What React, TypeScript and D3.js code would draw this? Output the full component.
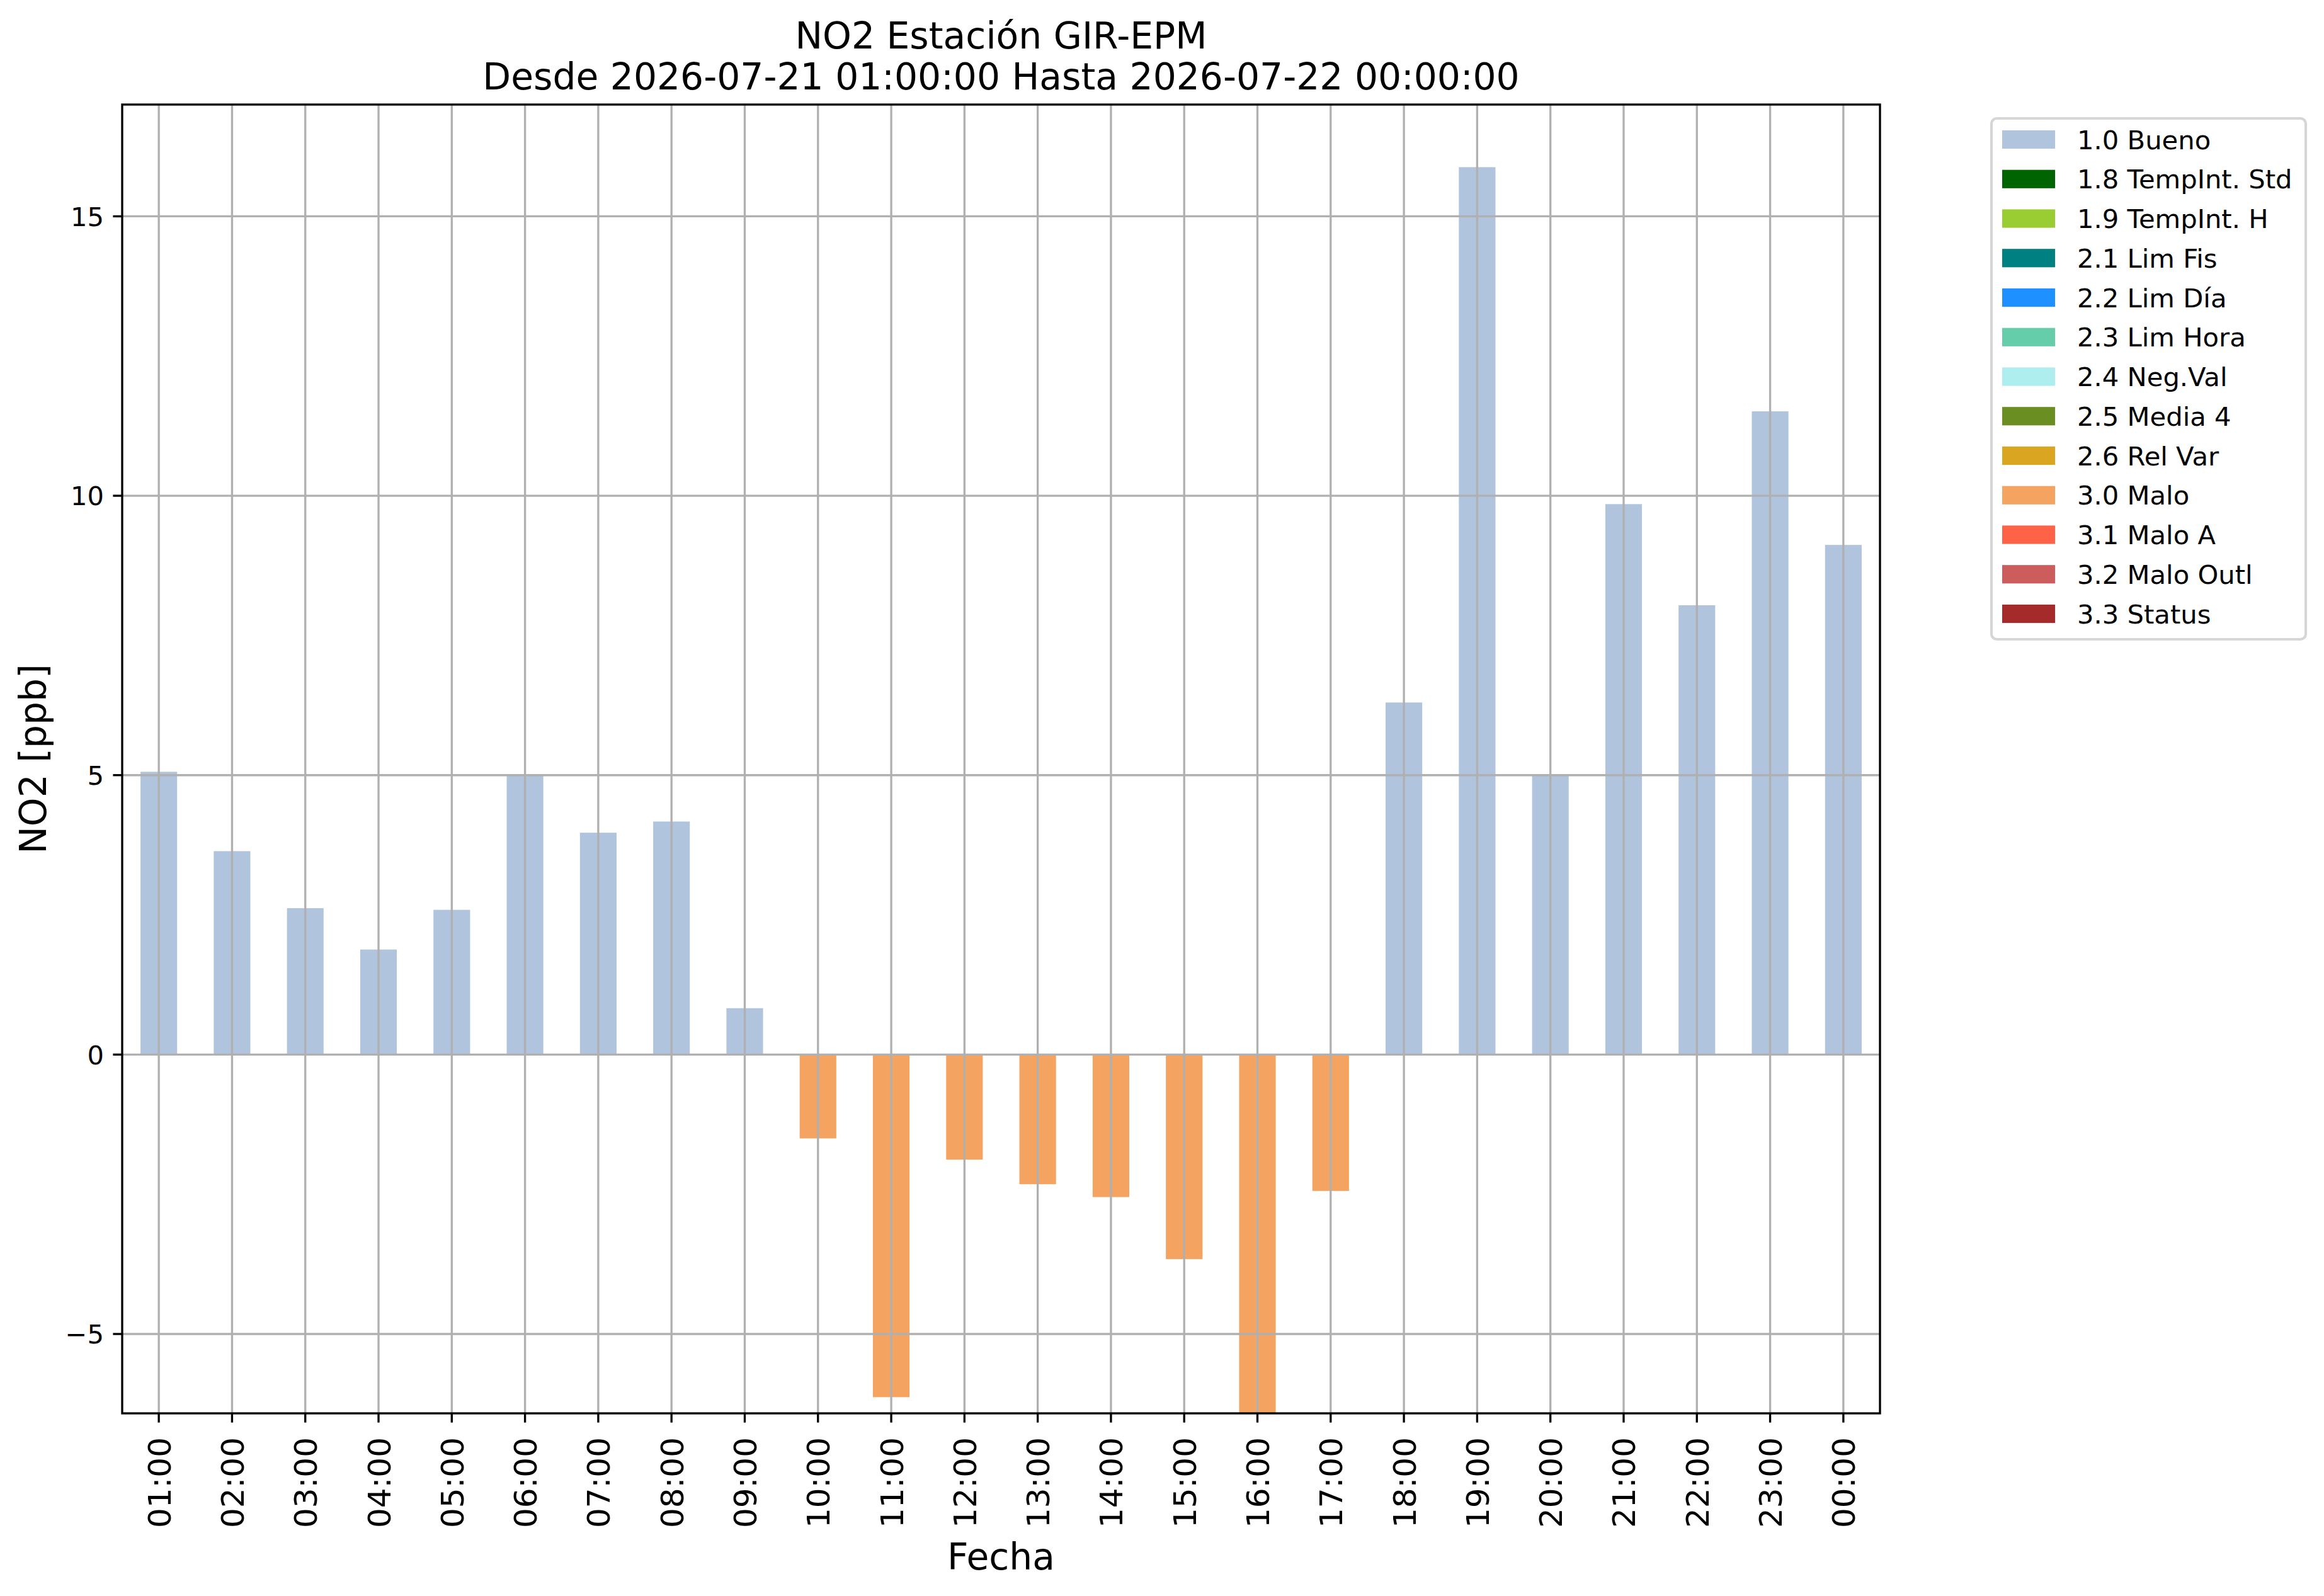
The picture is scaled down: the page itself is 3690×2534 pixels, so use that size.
import * as d3 from 'd3'

const W = 3690
const H = 2534
const M = { top: 166, right: 705, bottom: 290, left: 194 }
const FONT = '"DejaVu Sans", sans-serif'

const hours = ['01:00', '02:00', '03:00', '04:00', '05:00', '06:00', '07:00', '08:00', '09:00', '10:00', '11:00', '12:00',
  '13:00', '14:00', '15:00', '16:00', '17:00', '18:00', '19:00', '20:00', '21:00', '22:00', '23:00', '00:00']
const no2 = [5.06, 3.64, 2.62, 1.88, 2.59, 4.99, 3.97, 4.17, 0.83, -1.5, -6.13, -1.88,
  -2.32, -2.55, -3.66, -6.42, -2.44, 6.3, 15.88, 4.99, 9.85, 8.04, 11.51, 9.12]
const flags = ['1.0', '1.0', '1.0', '1.0', '1.0', '1.0', '1.0', '1.0', '1.0', '3.0', '3.0', '3.0',
  '3.0', '3.0', '3.0', '3.0', '3.0', '1.0', '1.0', '1.0', '1.0', '1.0', '1.0', '1.0']

const legendCodes = ['1.0', '1.8', '1.9', '2.1', '2.2', '2.3', '2.4', '2.5', '2.6', '3.0', '3.1', '3.2', '3.3']
const legendNames = ['Bueno', 'TempInt. Std', 'TempInt. H', 'Lim Fis', 'Lim Día', 'Lim Hora', 'Neg.Val', 'Media 4',
  'Rel Var', 'Malo', 'Malo A', 'Malo Outl', 'Status']
const legendColors = ['#b0c4de', '#006400', '#9acd32', '#008080', '#1e90ff', '#66cdaa', '#afeeee', '#6b8e23',
  '#daa520', '#f4a460', '#ff6347', '#cd5c5c', '#a52a2a']

const yDomain = [-6.42, 17.0]
const yTicks = [-5, 0, 5, 10, 15]

const GRID = '#b0b0b0'
const LW = 3.33

export default function App() {
  const iW = W - M.left - M.right
  const iH = H - M.top - M.bottom

  const x = d3.scaleBand<string>().domain(hours).range([0, iW]).paddingInner(0.5).paddingOuter(0.25)
  const y = d3.scaleLinear().domain(yDomain).range([iH, 0])
  const color = d3.scaleOrdinal<string, string>().domain(legendCodes).range(legendColors)
  const cx = (h: string) => (x(h) ?? 0) + x.bandwidth() / 2

  const fmt = (v: number) => (v < 0 ? `\u2212${Math.abs(v)}` : `${v}`)

  return (
    <svg width={W} height={H} style={{ position: 'absolute', left: 0, top: 0, background: '#fff' }} fontFamily={FONT}>
      <rect width={W} height={H} fill="#fff" />

      {/* title */}
      <text x={M.left + iW / 2} y={77} fontSize={58.3} textAnchor="middle">NO2 Estación GIR-EPM</text>
      <text x={M.left + iW / 2} y={142} fontSize={58.3} textAnchor="middle">Desde 2026-07-21 01:00:00 Hasta 2026-07-22 00:00:00</text>

      <g transform={`translate(${M.left},${M.top})`}>
        <defs>
          <clipPath id="plot-clip"><rect width={iW} height={iH} /></clipPath>
        </defs>

        {/* bars */}
        <g clipPath="url(#plot-clip)">
          {no2.map((v, i) => (
            <rect key={hours[i]} x={x(hours[i])} width={x.bandwidth()}
              y={y(Math.max(0, v))} height={Math.abs(y(v) - y(0))} fill={color(flags[i])} />
          ))}
        </g>

        {/* grid on top of bars */}
        {hours.map(h => (
          <line key={h} x1={cx(h)} x2={cx(h)} y1={0} y2={iH} stroke={GRID} strokeWidth={LW} />
        ))}
        {yTicks.map(t => (
          <line key={t} x1={0} x2={iW} y1={y(t)} y2={y(t)} stroke={GRID} strokeWidth={LW} />
        ))}

        {/* frame */}
        <rect width={iW} height={iH} fill="none" stroke="#000" strokeWidth={LW} />

        {/* y axis */}
        {yTicks.map(t => (
          <g key={t} transform={`translate(0,${y(t)})`}>
            <line x1={-14.6} x2={0} stroke="#000" strokeWidth={LW} />
            <text x={-29} y={15.2} fontSize={41.7} textAnchor="end">{fmt(t)}</text>
          </g>
        ))}

        {/* x axis */}
        {hours.map(h => (
          <g key={h} transform={`translate(${cx(h)},${iH})`}>
            <line y1={0} y2={14.6} stroke="#000" strokeWidth={LW} />
            <text transform={`translate(18.5,38) rotate(-90)`} fontSize={50} textAnchor="end">{h}</text>
          </g>
        ))}

        <text x={iW / 2} y={2492 - M.top} fontSize={58.3} textAnchor="middle">Fecha</text>
        <text transform={`translate(${73 - M.left},${iH / 2}) rotate(-90)`} fontSize={58.3} textAnchor="middle">NO2 [ppb]</text>
      </g>

      {/* legend */}
      <g transform="translate(3162,188)">
        <rect width={499} height={827} rx={8.3} fill="#fff" fillOpacity={0.8} stroke="#d6d6d6" strokeWidth={4.17} />
        {legendCodes.map((c, i) => {
          const rowY = 33.5 + i * 62.75
          return (
            <g key={c} transform={`translate(0,${rowY})`}>
              <rect x={17} y={-14.6} width={84} height={29.2} fill={legendColors[i]} />
              <text x={136} y={15} fontSize={41.7}>{`${c} ${legendNames[i]}`}</text>
            </g>
          )
        })}
      </g>
    </svg>
  )
}
